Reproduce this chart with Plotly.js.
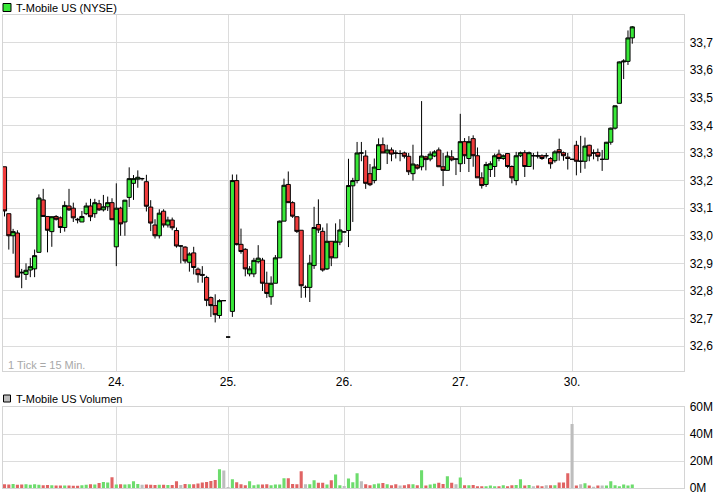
<!DOCTYPE html>
<html>
<head>
<meta charset="utf-8">
<script src="https://cdn.plot.ly/plotly-3.0.1.min.js"></script>
<style>html,body{margin:0;padding:0;background:#fff;}#chart{width:726px;height:496px;}</style>
</head>
<body>
<div id="chart"></div>
<script>
// 15-minute candles, T-Mobile US (NYSE)
var openP = [
33.25,33.08,33.00,33.01,32.868,32.86,32.876,32.88,32.94,33.13,33.07,33.015,33.07,33.065,33.03,33.108,33.10,33.06,33.05,33.08,33.108,33.08,33.116,33.094,33.105,33.12,
32.96,33.10,33.05,33.139,33.19,33.205,33.207,33.196,33.104,33.039,33.0,33.089,33.039,33.057,33.019,32.963,32.959,32.904,32.938,32.879,32.86,32.849,32.776,32.747,32.711,32.765,
32.633,32.726,33.2,32.969,32.951,32.862,32.862,32.906,32.912,32.828,32.779,32.828,32.92,33.053,33.186,33.12,33.069,33.02,32.813,32.813,32.892,33.041,33.016,32.88,32.98,32.92,32.977,
33.014,33.019,33.181,33.2,33.3,33.289,33.225,33.2,33.24,33.33,33.3,33.311,33.3,33.298,33.3,33.288,33.225,33.256,33.25,33.286,33.278,33.289,33.311,33.25,33.237,33.286,33.278,
33.261,33.341,33.28,33.352,33.29,33.21,33.186,33.24,33.251,33.296,33.28,33.298,33.251,33.2,33.29,33.301,33.251,33.29,33.29,33.29,33.29,33.28,33.272,33.312,33.301,33.285,
33.277,33.328,33.27,33.27,33.328,33.3,33.302,33.277,33.277,33.339,33.39,33.48,33.63,33.632,33.717];
var highP = [
33.25,33.08,33.025,33.02,32.88,32.90,32.92,32.95,33.15,33.17,33.07,33.07,33.075,33.07,33.125,33.17,33.12,33.065,33.09,33.12,33.134,33.134,33.13,33.148,33.142,33.136,
33.19,33.105,33.13,33.248,33.22,33.237,33.21,33.221,33.129,33.06,33.096,33.096,33.069,33.066,33.03,32.965,32.962,32.94,32.96,32.885,32.89,32.855,32.78,32.788,32.77,32.766,
32.634,33.222,33.222,33.026,32.955,32.89,32.92,32.966,32.92,32.87,32.853,32.93,33.055,33.207,33.233,33.125,33.07,33.02,32.82,32.931,33.105,33.132,33.03,33.045,32.98,33.045,33.06,
33.015,33.279,33.21,33.34,33.34,33.31,33.26,33.28,33.353,33.356,33.33,33.32,33.31,33.31,33.305,33.3,33.33,33.26,33.488,33.29,33.306,33.31,33.32,33.3,33.305,33.31,33.28,
33.442,33.354,33.361,33.364,33.32,33.23,33.268,33.27,33.298,33.312,33.295,33.3,33.255,33.304,33.305,33.31,33.305,33.3,33.305,33.295,33.3,33.285,33.31,33.352,33.305,33.3,
33.278,33.344,33.362,33.356,33.33,33.313,33.316,33.311,33.34,33.392,33.472,33.632,33.64,33.744,33.76];
var lowP = [
33.07,32.95,32.935,32.85,32.81,32.84,32.85,32.85,32.94,33.07,32.94,32.96,33.055,33.01,33.015,33.09,33.05,33.045,33.05,33.075,33.053,33.065,33.09,33.088,33.09,33.058,
32.89,33.0,33.0,33.104,33.13,33.174,33.2,33.088,33.017,32.99,32.99,33.03,33.03,33.02,32.957,32.90,32.90,32.87,32.86,32.83,32.83,32.745,32.706,32.686,32.70,32.764,
32.632,32.706,32.965,32.935,32.853,32.853,32.85,32.90,32.80,32.775,32.75,32.828,32.92,33.053,33.12,33.065,33.01,32.775,32.776,32.76,32.88,33.01,32.87,32.876,32.89,32.92,32.966,
33.013,32.959,33.05,33.19,33.27,33.17,33.18,33.19,33.24,33.3,33.26,33.27,33.28,33.27,33.28,33.22,33.2,33.24,33.237,33.237,33.27,33.285,33.25,33.18,33.237,33.27,33.22,
33.231,33.26,33.231,33.25,33.21,33.171,33.177,33.213,33.213,33.27,33.275,33.245,33.19,33.183,33.285,33.213,33.25,33.24,33.28,33.275,33.28,33.243,33.265,33.272,33.272,33.24,
33.276,33.219,33.228,33.243,33.27,33.277,33.27,33.235,33.277,33.33,33.385,33.48,33.568,33.619,33.696];
var closeP = [
33.09,33.00,33.015,32.85,32.866,32.875,32.888,32.928,33.137,33.07,33.02,33.069,33.06,33.03,33.11,33.094,33.065,33.058,33.07,33.108,33.069,33.12,33.094,33.105,33.12,33.058,
33.10,33.043,33.129,33.207,33.207,33.212,33.207,33.107,33.046,33.0,33.082,33.039,33.057,33.029,32.963,32.963,32.909,32.934,32.885,32.859,32.857,32.766,32.747,32.714,32.765,32.765,
32.633,33.2,32.968,32.943,32.88,32.88,32.911,32.919,32.828,32.791,32.828,32.92,33.053,33.183,33.12,33.071,33.016,32.819,32.813,32.901,33.03,33.021,32.876,32.98,32.92,32.98,33.021,
33.014,33.182,33.2,33.3,33.3,33.19,33.185,33.249,33.33,33.3,33.311,33.296,33.299,33.298,33.288,33.232,33.26,33.245,33.289,33.276,33.296,33.304,33.25,33.237,33.289,33.275,33.278,
33.341,33.29,33.341,33.29,33.21,33.182,33.258,33.261,33.29,33.28,33.29,33.251,33.21,33.29,33.301,33.251,33.301,33.29,33.289,33.28,33.29,33.261,33.304,33.301,33.29,33.28,
33.277,33.27,33.27,33.325,33.289,33.3,33.288,33.277,33.339,33.39,33.471,33.63,33.633,33.717,33.757];
// volume in millions of shares
var volumeM = [
2.7,2.6,3.0,2.4,2.6,2.8,2.5,2.8,2.4,2.0,2.2,2.0,1.8,1.8,1.8,1.9,1.7,1.6,2.0,2.4,2.8,2.6,3.7,4.5,4.0,8.0,
2.6,2.7,2.6,2.7,5.0,3.0,2.5,2.6,2.4,2.2,2.4,2.5,2.2,2.2,5.0,2.2,3.0,2.7,2.8,3.4,4.0,4.5,5.2,6.0,13.8,13.0,
0.8,6.5,4.2,2.8,2.0,5.0,2.0,2.6,2.6,2.7,2.0,2.6,2.6,7.3,7.3,3.0,2.7,12.5,2.7,2.8,5.7,3.8,3.8,2.6,5.8,10.0,2.0,
1.4,7.0,4.2,11.0,5.0,2.8,2.0,2.8,3.4,3.7,2.7,2.0,2.8,1.8,2.0,2.8,2.8,2.0,13.2,1.8,2.6,3.2,3.8,3.0,8.7,3.8,2.7,
7.8,2.0,2.0,2.2,1.3,1.3,1.3,1.8,1.3,1.3,2.0,1.3,2.0,2.2,6.5,1.8,2.2,1.3,1.8,1.3,2.0,2.0,2.0,4.0,4.0,11.0,
47.5,1.8,2.8,3.5,1.8,1.0,1.8,1.8,1.8,5.0,2.0,1.3,2.6,1.8,2.6];
var dayTickIdx = [26, 52, 79, 106, 132];
var dayTickText = ['24.', '25.', '26.', '27.', '30.'];
var priceTicks = [32.6,32.7,32.8,32.9,33.0,33.1,33.2,33.3,33.4,33.5,33.6,33.7];
var volTicks = [0, 20, 40, 60];
var volTickText = ['0M', '20M', '40M', '60M'];

var W = 726, H = 496;
var xIdx = openP.map(function(_, i){ return i; });
var volColors = openP.map(function(o, i){
  var c = closeP[i];
  if (c > o) return '#6ddc6d';
  if (c < o) return '#e06464';
  return '#bdbdbd';
});

var FONT = 'Liberation Sans, Arial, sans-serif';
function px(x){ return x / W; }
function py(y){ return (H - y) / H; }

var traces = [
  {
    type: 'candlestick', x: xIdx, open: openP, high: highP, low: lowP, close: closeP,
    xaxis: 'x', yaxis: 'y',
    increasing: {fillcolor: '#38e838', line: {color: '#000', width: 1}},
    decreasing: {fillcolor: '#f03c3c', line: {color: '#000', width: 1}},
    whiskerwidth: 0, hoverinfo: 'skip', showlegend: false
  },
  {
    type: 'bar', x: xIdx, y: volumeM, xaxis: 'x2', yaxis: 'y2',
    marker: {color: volColors, line: {width: 0}}, hoverinfo: 'skip', showlegend: false
  }
];

var gridC = '#dcdcdc', frameC = '#d4d4d4';
var xr = [-0.42, 158.1];
var layout = {
  width: W, height: H,
  margin: {l: 0, r: 0, t: 0, b: 0},
  paper_bgcolor: '#fff', plot_bgcolor: '#fff',
  separators: ',.',
  boxgap: 0.04, boxgroupgap: 0, bargap: 0.28,
  font: {family: FONT, size: 12, color: '#000'},
  xaxis: {
    domain: [px(2.7), px(684.3)], range: xr, anchor: 'y',
    tickmode: 'array', tickvals: dayTickIdx, ticktext: dayTickText,
    showgrid: true, gridcolor: gridC, gridwidth: 1, zeroline: false,
    showline: true, linecolor: frameC, linewidth: 1, mirror: true,
    ticks: '', ticklabelstandoff: 0, tickfont: {family: FONT, size: 12, color: '#000'},
    rangeslider: {visible: false}, fixedrange: true
  },
  yaxis: {
    domain: [py(371), py(15)], range: [32.51, 33.8], anchor: 'x', side: 'right',
    tickmode: 'array', tickvals: priceTicks, tickformat: '.1f',
    showgrid: true, gridcolor: gridC, gridwidth: 1, zeroline: false,
    showline: true, linecolor: frameC, linewidth: 1, mirror: true,
    ticks: '', ticklabelstandoff: 2, tickfont: {family: FONT, size: 12, color: '#000'}, fixedrange: true
  },
  xaxis2: {
    domain: [px(2.7), px(684.3)], range: xr, anchor: 'y2',
    tickmode: 'array', tickvals: dayTickIdx, showticklabels: false,
    showgrid: true, gridcolor: gridC, gridwidth: 1, zeroline: false,
    showline: true, linecolor: frameC, linewidth: 1, mirror: true, ticks: '', fixedrange: true
  },
  yaxis2: {
    domain: [py(488), py(407)], range: [0, 60], anchor: 'x2', side: 'right',
    tickmode: 'array', tickvals: volTicks, ticktext: volTickText,
    showgrid: true, gridcolor: gridC, gridwidth: 1, zeroline: false,
    showline: true, linecolor: frameC, linewidth: 1, mirror: true,
    ticks: '', ticklabelstandoff: 2, tickfont: {family: FONT, size: 12, color: '#000'}, fixedrange: true
  },
  shapes: [
    {type: 'rect', xref: 'paper', yref: 'paper', x0: px(3), x1: px(11), y0: py(11.5), y1: py(3.5),
     fillcolor: '#38e838', line: {color: '#000', width: 1}},
    {type: 'rect', xref: 'paper', yref: 'paper', x0: px(3.5), x1: px(10.5), y0: py(402), y1: py(395),
     fillcolor: '#bdbdbd', line: {color: '#000', width: 1}}
  ],
  annotations: [
    {text: 'T-Mobile US (NYSE)', xref: 'paper', yref: 'paper', x: px(14), y: py(7.5),
     xanchor: 'left', yanchor: 'middle', showarrow: false, font: {family: FONT, size: 11, color: '#000'}},
    {text: 'T-Mobile US Volumen', xref: 'paper', yref: 'paper', x: px(14), y: py(398.5),
     xanchor: 'left', yanchor: 'middle', showarrow: false, font: {family: FONT, size: 11, color: '#000'}},
    {text: '1 Tick = 15 Min.', xref: 'paper', yref: 'paper', x: px(6), y: py(365),
     xanchor: 'left', yanchor: 'middle', showarrow: false, font: {family: FONT, size: 11, color: '#a8a8a8'}}
  ]
};

Plotly.newPlot('chart', traces, layout, {staticPlot: true, displayModeBar: false});
</script>
</body>
</html>
